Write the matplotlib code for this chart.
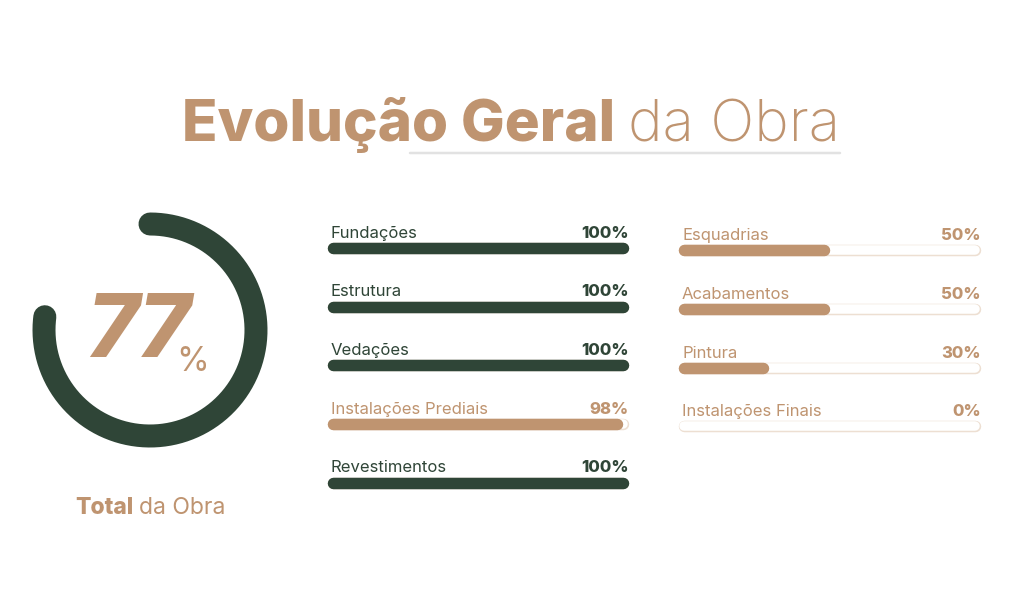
import numpy as np
import matplotlib
matplotlib.use("Agg")
import matplotlib.pyplot as plt

# dados
total = 77
col1_labels = ["Fundações", "Estrutura", "Vedações", "Instalações Prediais", "Revestimentos"]
col1_values = [100, 100, 100, 98, 100]
col2_labels = ["Esquadrias", "Acabamentos", "Pintura", "Instalações Finais"]
col2_values = [50, 50, 30, 0]

verde = "#2f4537"
bege = "#bf9470"
contorno = "#eddfd2"

plt.rcParams['font.family'] = ['Inter', 'DejaVu Sans']

fig = plt.figure(figsize=(10.24, 6.14), dpi=100)
ax = fig.add_axes([0, 0, 1, 1])
ax.set_xlim(0, 1024)
ax.set_ylim(614, 0)
ax.axis('off')

px = 72 / 100  # pontos por pixel

# titulo
r = fig.canvas.get_renderer()
t2 = ax.text(840, 141, "da Obra", fontsize=42, color=bege, fontweight='light', ha='right', va='baseline')
bb = t2.get_window_extent(renderer=r)
ax.text(bb.x0 - 13, 141, "Evolução Geral", fontsize=42, color=bege, fontweight='heavy', ha='right', va='baseline')
ax.plot([410, 840], [153, 153], color="#e2e2e2", lw=2.5 * px, solid_capstyle='round')

# anel do total
cx, cy, rad = 150, 330, 106
ang = np.radians(np.linspace(90, 90 - 360 * total / 100, 300))
ax.plot(cx + rad * np.cos(ang), cy - rad * np.sin(ang), color=verde, lw=23 * px, solid_capstyle='round')
ax.text(138, 357, str(total), fontsize=64, color=bege, fontweight='heavy', style='italic',
        ha='center', va='baseline')
ax.text(193, 371, "%", fontsize=24, color=bege, fontweight='normal', ha='center', va='baseline')
ax.text(134, 514, "Total", fontsize=16.5, color=bege, fontweight='heavy', ha='right', va='baseline')
ax.text(139, 514, "da Obra", fontsize=16.5, color=bege, ha='left', va='baseline')


def barra(x0, x1, y, val, lab, esc):
    h = 11.5
    ax.plot([x0 + h / 2, x1 - h / 2], [y, y], color=contorno, lw=h * px, solid_capstyle='round', zorder=2)
    ax.plot([x0 + h / 2, x1 - h / 2], [y, y], color='white', lw=(h - 2) * px, solid_capstyle='round', zorder=3)
    cor = verde if val == 100 and esc else bege
    if val > 0:
        xe = x0 + (x1 - x0) * val / 100
        ax.plot([x0 + h / 2, xe - h / 2], [y, y], color=cor, lw=h * px, solid_capstyle='round', zorder=4)
    ax.text(x0 + 4, y - 10, lab, fontsize=12, color=cor, ha='left', va='baseline', fontweight='normal')
    ax.text(x1, y - 10, f"{val}%", fontsize=12, color=cor, ha='right', va='baseline', fontweight='heavy')


ys1 = [248, 306.5, 365, 424, 482.5]
for y, lab, v in zip(ys1, col1_labels, col1_values):
    barra(327, 629, y, v, lab, True)

ys2 = [250, 309, 367.5, 426]
for y, lab, v in zip(ys2, col2_labels, col2_values):
    barra(678, 981, y, v, lab, False)

fig.savefig("out.png", dpi=100, facecolor='white')
